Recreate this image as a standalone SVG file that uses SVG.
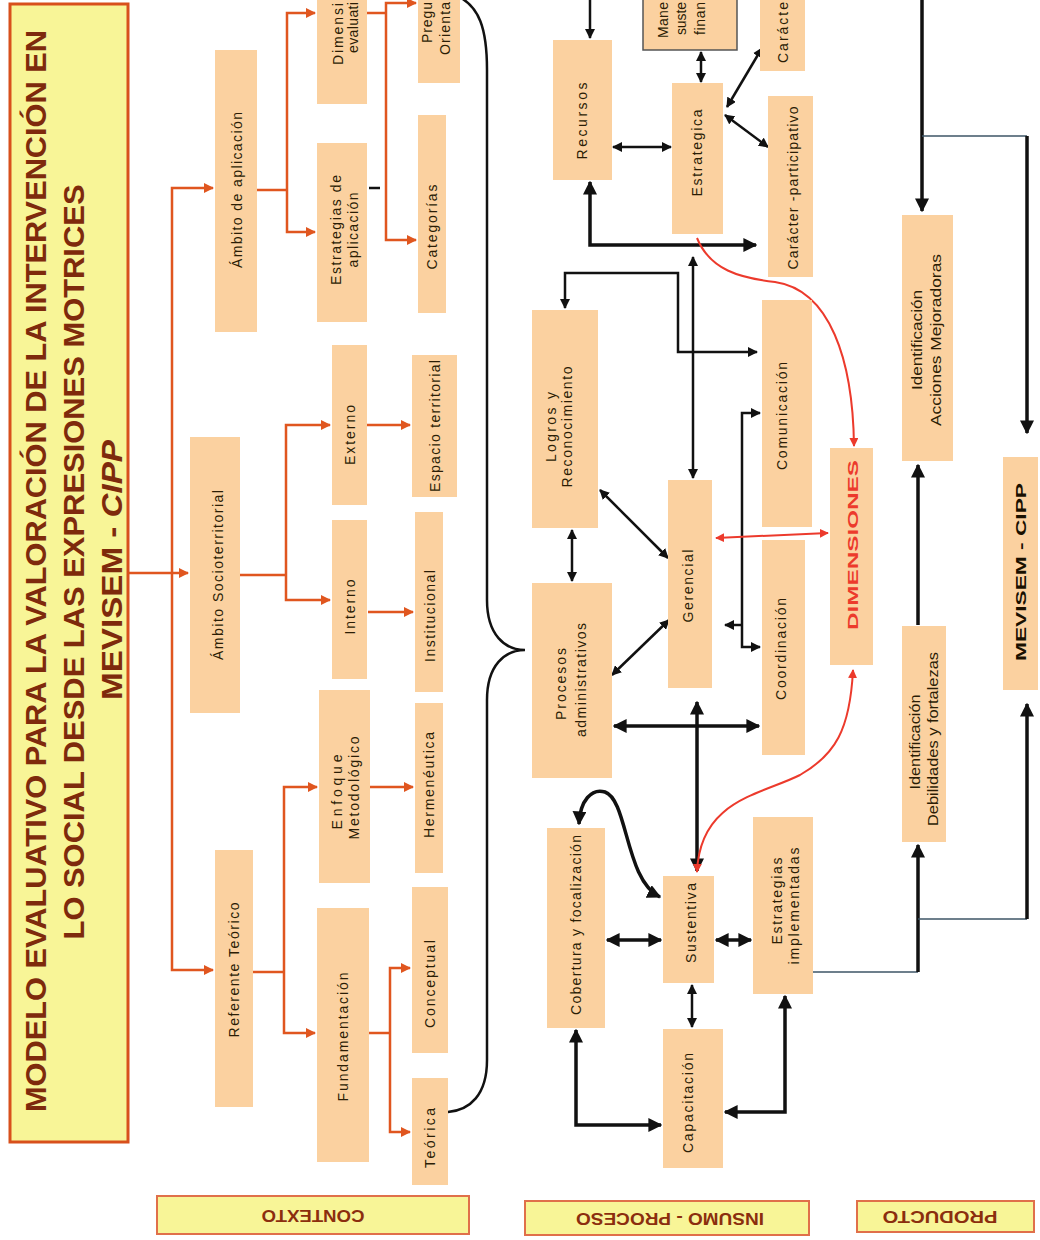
<svg xmlns="http://www.w3.org/2000/svg" width="1040" height="1240" viewBox="0 0 1040 1240">
<style>
.n{fill:#fbd1a0}
.t{font-family:"Liberation Sans",Arial,sans-serif;font-size:14px;fill:#2b1d05;text-anchor:middle;dominant-baseline:central}
.ts{font-family:"Liberation Sans",Arial,sans-serif;font-size:14px;fill:#2b1d05;text-anchor:start;dominant-baseline:central}
.ttl{font-family:"Liberation Sans",Arial,sans-serif;font-weight:bold;font-size:30px;fill:#7e2a0c;text-anchor:middle}
.lbl{fill:#f8f597;stroke:#e0704a;stroke-width:2}
.lt{font-family:"Liberation Sans",Arial,sans-serif;font-weight:bold;font-size:16px;fill:#8b2e0e;text-anchor:middle;dominant-baseline:central}
.o{fill:none;stroke:#e0561f;stroke-width:2.5}
.b{fill:none;stroke:#111;stroke-width:2.5}
.bt{fill:none;stroke:#111;stroke-width:3.5}
.g{fill:none;stroke:#3d5566;stroke-width:1.5}
.r{fill:none;stroke:#ec3a2c;stroke-width:2}
</style>
<defs>
<marker id="ao" viewBox="0 0 10 10" refX="9" refY="5" markerWidth="4" markerHeight="4" orient="auto-start-reverse"><path d="M0,0L10,5L0,10z" fill="#e0561f"/></marker>
<marker id="ab" viewBox="0 0 10 10" refX="9" refY="5" markerWidth="4" markerHeight="4" orient="auto-start-reverse"><path d="M0,0L10,5L0,10z" fill="#111"/></marker>
<marker id="ar" viewBox="0 0 10 10" refX="9" refY="5" markerWidth="4.5" markerHeight="4.5" orient="auto-start-reverse"><path d="M0,0L10,5L0,10z" fill="#ec3a2c"/></marker>
</defs>
<rect width="1040" height="1240" fill="#fff"/>

<g id="connectors">
<path class="o" d="M128,573H188" marker-end="url(#ao)"/>
<path class="o" d="M213,188H172V970H213" marker-start="url(#ao)" marker-end="url(#ao)"/>
<path class="o" d="M257,190H287"/>
<path class="o" d="M315,13H287V232H315" marker-start="url(#ao)" marker-end="url(#ao)"/>
<path class="o" d="M367,13H386"/>
<path class="o" d="M416,3H386V240H416" marker-start="url(#ao)" marker-end="url(#ao)"/>
<path class="o" d="M240,575H286"/>
<path class="o" d="M330,425H286V600H330" marker-start="url(#ao)" marker-end="url(#ao)"/>
<path class="o" d="M367,425H410" marker-end="url(#ao)"/>
<path class="o" d="M368,612H413" marker-end="url(#ao)"/>
<path class="o" d="M253,972H284"/>
<path class="o" d="M317,787H284V1033H315" marker-start="url(#ao)" marker-end="url(#ao)"/>
<path class="o" d="M370,787H413" marker-end="url(#ao)"/>
<path class="o" d="M369,1033H390"/>
<path class="o" d="M410,968H390V1132H410" marker-start="url(#ao)" marker-end="url(#ao)"/>
<path class="b" d="M369,188H380" stroke-width="3"/>
<path class="b" stroke-width="3" d="M455,-5C480,5 487,30 487,70V600C487,635 505,650 525,650C505,650 487,665 487,700V1060C487,1095 470,1110 448,1112"/>
<path class="b" d="M590,-5V38" marker-end="url(#ab)"/>
<path class="b" d="M613,147H671" marker-start="url(#ab)" marker-end="url(#ab)"/>
<path class="b" d="M701,52V82" marker-start="url(#ab)" marker-end="url(#ab)"/>
<path class="b" d="M727,107L762,48" marker-start="url(#ab)" marker-end="url(#ab)"/>
<path class="b" d="M725,115L768,147" marker-start="url(#ab)" marker-end="url(#ab)"/>
<path class="bt" d="M590,182V245H756" marker-start="url(#ab)" marker-end="url(#ab)" stroke-width="3"/>
<path class="b" d="M693,257V478" marker-start="url(#ab)" marker-end="url(#ab)"/>
<path class="b" d="M565,308V273H678V352H757" marker-start="url(#ab)" marker-end="url(#ab)"/>
<path class="b" d="M572,530V581" marker-start="url(#ab)" marker-end="url(#ab)"/>
<path class="b" d="M600,490L668,558" marker-start="url(#ab)" marker-end="url(#ab)"/>
<path class="b" d="M612,675L669,620" marker-start="url(#ab)" marker-end="url(#ab)"/>
<path class="b" d="M760,413H742V647H760" marker-start="url(#ab)" marker-end="url(#ab)"/>
<path class="b" d="M742,625H725" marker-end="url(#ab)"/>
<path class="bt" d="M614,726H759" marker-start="url(#ab)" marker-end="url(#ab)"/>
<path class="bt" d="M697,702V871" marker-start="url(#ab)" marker-end="url(#ab)" stroke-width="3"/>
<path class="bt" d="M660,897C625,880 628,800 605,792C592,788 580,800 579,824" marker-start="url(#ab)" marker-end="url(#ab)" stroke-width="3"/>
<path class="bt" d="M607,940H661" marker-start="url(#ab)" marker-end="url(#ab)" stroke-width="3"/>
<path class="bt" d="M716,940H751" marker-start="url(#ab)" marker-end="url(#ab)" stroke-width="3"/>
<path class="b" d="M692,985V1027" marker-start="url(#ab)" marker-end="url(#ab)"/>
<path class="bt" d="M576,1030V1125H661" marker-start="url(#ab)" marker-end="url(#ab)" stroke-width="3"/>
<path class="bt" d="M785,996V1112H725" marker-start="url(#ab)" marker-end="url(#ab)" stroke-width="3"/>
<path class="r" d="M716,538L828,533" marker-start="url(#ar)" marker-end="url(#ar)"/>
<path class="r" d="M697,238C710,270 740,278 775,282C830,290 853,360 854,446" marker-end="url(#ar)"/>
<path class="r" d="M853,670C850,730 835,755 800,775C760,795 700,800 697,872" marker-start="url(#ar)" marker-end="url(#ar)"/>
<path class="bt" d="M922,-5V211" marker-end="url(#ab)" stroke-width="3"/>
<path class="g" d="M922,136H1027"/>
<path class="bt" d="M1027,136V433" marker-end="url(#ab)"/>
<path class="bt" d="M918,625V465" marker-end="url(#ab)" stroke-width="3"/>
<path class="g" d="M813,972H918"/>
<path class="bt" d="M918,972V845" marker-end="url(#ab)" stroke-width="3"/>
<path class="g" d="M918,919H1027"/>
<path class="bt" d="M1027,919V704" marker-end="url(#ab)"/>
</g>

<g id="title">
<rect x="10" y="4" width="118" height="1138" fill="#f8f597" stroke="#d8501c" stroke-width="3"/>
<text class="ttl" transform="translate(46,571) rotate(-90)" textLength="1082" lengthAdjust="spacingAndGlyphs">MODELO EVALUATIVO PARA LA VALORACIÓN DE LA INTERVENCIÓN EN</text>
<text class="ttl" transform="translate(84,562) rotate(-90)" textLength="755" lengthAdjust="spacingAndGlyphs">LO SOCIAL DESDE LAS EXPRESIONES MOTRICES</text>
<text class="ttl" transform="translate(122,570) rotate(-90)" textLength="260" lengthAdjust="spacingAndGlyphs">MEVISEM -  <tspan font-style="italic">CIPP</tspan></text>
</g>

<g id="ambito-aplicacion"><rect class="n" x="215" y="50" width="42" height="282"/><text class="t" transform="translate(237,190) rotate(-90)" textLength="156">Ámbito de aplicación</text></g>
<g id="ambito-socioterritorial"><rect class="n" x="190" y="437" width="50" height="276"/><text class="t" transform="translate(218,575) rotate(-90)" textLength="170">Ámbito Socioterritorial</text></g>
<g id="referente-teorico"><rect class="n" x="215" y="850" width="38" height="257"/><text class="t" transform="translate(234,970) rotate(-90)" textLength="135">Referente Teórico</text></g>

<g id="dimensiones-evaluativas"><rect class="n" x="317" y="-80" width="50" height="184"/><text class="ts" transform="translate(338,65) rotate(-90)" textLength="62">Dimensi</text><text class="ts" transform="translate(353,53) rotate(-90)" textLength="51">evaluati</text></g>
<g id="estrategias-aplicacion"><rect class="n" x="317" y="143" width="50" height="179"/><text class="t" transform="translate(336,230) rotate(-90)" textLength="110">Estrategias de</text><text class="t" transform="translate(353,230) rotate(-90)" textLength="75">aplicación</text></g>
<g id="externo"><rect class="n" x="332" y="345" width="35" height="160"/><text class="t" transform="translate(350,435) rotate(-90)" textLength="60">Externo</text></g>
<g id="interno"><rect class="n" x="332" y="520" width="35" height="159"/><text class="t" transform="translate(350,607) rotate(-90)" textLength="55">Interno</text></g>
<g id="enfoque"><rect class="n" x="319" y="690" width="51" height="193"/><text class="t" transform="translate(337,792) rotate(-90)" textLength="75">Enfoque</text><text class="t" transform="translate(354,788) rotate(-90)" textLength="103">Metodológico</text></g>
<g id="fundamentacion"><rect class="n" x="317" y="908" width="52" height="254"/><text class="t" transform="translate(343,1037) rotate(-90)" textLength="129">Fundamentación</text></g>

<g id="preguntas"><rect class="n" x="418" y="-60" width="42" height="143"/><text class="ts" transform="translate(427,43) rotate(-90)" textLength="41">Pregu</text><text class="ts" transform="translate(445,55) rotate(-90)" textLength="53">Orienta</text></g>
<g id="categorias"><rect class="n" x="418" y="115" width="28" height="198"/><text class="t" transform="translate(432,227) rotate(-90)" textLength="85">Categorías</text></g>
<g id="espacio"><rect class="n" x="412" y="355" width="45" height="142"/><text class="t" transform="translate(435,426) rotate(-90)" textLength="132">Espacio territorial</text></g>
<g id="institucional"><rect class="n" x="415" y="512" width="28" height="180"/><text class="t" transform="translate(430,616) rotate(-90)" textLength="92">Institucional</text></g>
<g id="hermeneutica"><rect class="n" x="415" y="703" width="28" height="170"/><text class="t" transform="translate(429,785) rotate(-90)" textLength="106">Hermenéutica</text></g>
<g id="conceptual"><rect class="n" x="412" y="887" width="36" height="166"/><text class="t" transform="translate(430,984) rotate(-90)" textLength="88">Conceptual</text></g>
<g id="teorica"><rect class="n" x="412" y="1078" width="36" height="107"/><text class="t" transform="translate(430,1138) rotate(-90)" textLength="60">Teórica</text></g>

<g id="recursos"><rect class="n" x="553" y="40" width="59" height="140"/><text class="t" transform="translate(582,121) rotate(-90)" textLength="77">Recursos</text></g>
<g id="manejo"><rect class="n" x="643" y="-60" width="94" height="110" stroke="#555" stroke-width="1.5"/><text class="ts" transform="translate(663,38) rotate(-90)" textLength="36">Mane</text><text class="ts" transform="translate(681,35) rotate(-90)" textLength="33">suste</text><text class="ts" transform="translate(700,35) rotate(-90)" textLength="33">finan</text></g>
<g id="caracter"><rect class="n" x="760" y="-60" width="45" height="131"/><text class="ts" transform="translate(783,63) rotate(-90)" textLength="61">Carácte</text></g>
<g id="estrategica"><rect class="n" x="672" y="83" width="51" height="151"/><text class="t" transform="translate(697,153) rotate(-90)" textLength="87">Estrategica</text></g>
<g id="caracter-participativo"><rect class="n" x="768" y="96" width="45" height="181"/><text class="t" transform="translate(793,188) rotate(-90)" textLength="163">Carácter -participativo</text></g>
<g id="logros"><rect class="n" x="532" y="310" width="66" height="218"/><text class="t" transform="translate(551,427) rotate(-90)" textLength="70">Logros y</text><text class="t" transform="translate(567,427) rotate(-90)" textLength="121">Reconocimiento</text></g>
<g id="comunicacion"><rect class="n" x="762" y="300" width="50" height="227"/><text class="t" transform="translate(782,416) rotate(-90)" textLength="108">Comunicación</text></g>
<g id="gerencial"><rect class="n" x="668" y="480" width="44" height="208"/><text class="t" transform="translate(688,586) rotate(-90)" textLength="73">Gerencial</text></g>
<g id="coordinacion"><rect class="n" x="762" y="540" width="43" height="215"/><text class="t" transform="translate(781,649) rotate(-90)" textLength="102">Coordinación</text></g>
<g id="dimensiones"><rect class="n" x="830" y="448" width="43" height="217"/><text class="t" font-size="24" font-weight="bold" style="fill:#ec3a2c" transform="translate(853,545) rotate(-90)" textLength="170" lengthAdjust="spacingAndGlyphs">DIMENSIONES</text></g>
<g id="procesos"><rect class="n" x="532" y="583" width="80" height="195"/><text class="t" transform="translate(561,684) rotate(-90)" textLength="72">Procesos</text><text class="t" transform="translate(581,680) rotate(-90)" textLength="114">administrativos</text></g>
<g id="cobertura"><rect class="n" x="547" y="828" width="58" height="200"/><text class="t" transform="translate(576,925) rotate(-90)" textLength="180">Cobertura y focalización</text></g>
<g id="sustentiva"><rect class="n" x="663" y="876" width="51" height="107"/><text class="t" transform="translate(691,923) rotate(-90)" textLength="80">Sustentiva</text></g>
<g id="estrategias-implementadas"><rect class="n" x="753" y="817" width="60" height="177"/><text class="t" transform="translate(777,901) rotate(-90)" textLength="87">Estrategias</text><text class="t" transform="translate(794,906) rotate(-90)" textLength="117">implementadas</text></g>
<g id="capacitacion"><rect class="n" x="663" y="1029" width="60" height="139"/><text class="t" transform="translate(688,1103) rotate(-90)" textLength="100">Capacitación</text></g>

<g id="acciones"><rect class="n" x="902" y="215" width="51" height="246"/><text class="t" font-size="13" transform="translate(917,340) rotate(-90)" textLength="100" lengthAdjust="spacingAndGlyphs">Identificación</text><text class="t" font-size="13" transform="translate(936,340) rotate(-90)" textLength="172" lengthAdjust="spacingAndGlyphs">Acciones Mejoradoras</text></g>
<g id="debilidades"><rect class="n" x="902" y="626" width="44" height="216"/><text class="t" font-size="13" transform="translate(915,742) rotate(-90)" textLength="95" lengthAdjust="spacingAndGlyphs">Identificación</text><text class="t" font-size="13" transform="translate(933,739) rotate(-90)" textLength="174" lengthAdjust="spacingAndGlyphs">Debilidades y fortalezas</text></g>
<g id="mevisem"><rect class="n" x="1003" y="457" width="35" height="233"/><text class="t" font-size="17" font-weight="bold" style="fill:#1a1000" transform="translate(1021,572) rotate(-90)" textLength="178" lengthAdjust="spacingAndGlyphs">MEVISEM - CIPP</text></g>

<g id="label-contexto"><rect class="lbl" x="157" y="1196" width="312" height="38"/><text class="lt" transform="translate(313,1215) rotate(180)" textLength="103" lengthAdjust="spacingAndGlyphs">CONTEXTO</text></g>
<g id="label-insumo"><rect class="lbl" x="525" y="1201" width="284" height="34"/><text class="lt" transform="translate(670,1218) rotate(180)" textLength="188" lengthAdjust="spacingAndGlyphs">INSUMO - PROCESO</text></g>
<g id="label-producto"><rect class="lbl" x="857" y="1201" width="177" height="31"/><text class="lt" transform="translate(940,1216) rotate(180)" textLength="115" lengthAdjust="spacingAndGlyphs">PRODUCTO</text></g>
</svg>
